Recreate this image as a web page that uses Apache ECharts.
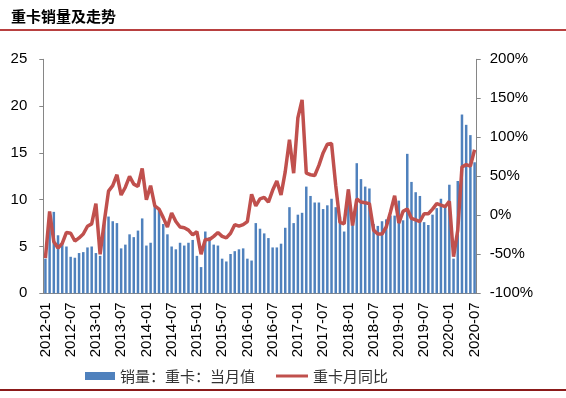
<!DOCTYPE html>
<html>
<head>
<meta charset="utf-8">
<script src="https://cdn.jsdelivr.net/npm/echarts@6/dist/echarts.min.js"></script>
<style>
html, body { margin: 0; padding: 0; background: #fff; }
#main { width: 566px; height: 398px; }
</style>
</head>
<body>
<div id="main"></div>
<script>
// 月份 2012-01 ~ 2020-07
var months = [];
for (var y = 2012; y <= 2020; y++) {
    for (var m = 1; m <= 12; m++) {
        if (y === 2020 && m > 7) break;
        months.push(y + '-' + (m < 10 ? '0' + m : m));
    }
}

// 销量：重卡：当月值（万辆）
var sales = [
    3.7, 8.7, 8.7, 6.2, 5.5, 5.0, 3.9, 3.8, 4.3, 4.4, 4.9, 5.0,   // 2012
    4.3, 4.0, 8.0, 8.2, 7.7, 7.5, 4.8, 5.2, 6.3, 6.0, 6.7, 8.0,   // 2013
    5.1, 5.4, 9.3, 8.9, 7.4, 6.3, 5.0, 4.7, 5.4, 5.1, 5.4, 5.7,   // 2014
    4.0, 2.8, 6.6, 6.0, 5.2, 5.1, 3.7, 3.4, 4.2, 4.5, 4.7, 4.8,   // 2015
    3.7, 3.5, 7.5, 6.9, 6.4, 5.9, 4.9, 4.9, 5.3, 7.0, 9.2, 7.5,   // 2016
    8.4, 8.6, 11.4, 10.4, 9.7, 9.7, 9.0, 9.4, 10.1, 9.2, 8.2, 6.6, // 2017
    11.1, 7.5, 13.9, 12.2, 11.4, 11.2, 7.4, 7.2, 7.7, 7.9, 8.3, 8.3, // 2018
    9.9, 7.8, 14.9, 11.9, 10.8, 10.4, 7.6, 7.3, 8.4, 9.1, 10.1, 9.3, // 2019
    11.6, 3.7, 12.0, 19.1, 18.0, 16.9, 14.0                          // 2020
];

// 重卡月同比（%）
var yoy = [
    -55, 5, -34, -42, -36, -22, -23, -33, -29, -24, -14, -11,
    15, -50, -8, 31, 38, 52, 26, 36, 50, 40, 37, 60,
    20, 38, 12, 8, -3, -15, 3, -8, -15, -16, -19, -25,
    -21, -50, -31, -31, -27, -22, -27, -29, -23, -12, -14, -12,
    -8, 27, 12, 21, 23, 17, 32, 44, 26, 56, 97, 54,
    125, 148, 54, 52, 51, 64, 80, 91, 92, 38, -9, -11,
    33, -13, 21, 17, 16, 15, -19, -24, -24, -15, 4, 25,
    -10, 5, 8, -4, -6, -8, 2, 2, 8, 15, 13, 11,
    18, -53, -19, 62, 65, 63, 84
];

var numFont = 'Liberation Sans, Arial, sans-serif';
var cnFont = 'Noto Sans CJK SC, sans-serif';

var myChart = echarts.init(document.getElementById('main'));
var option = {
    backgroundColor: '#fff',
    animation: false,
    title: {
        text: '重卡销量及走势',
        left: 11,
        top: 9,
        padding: 0,
        textStyle: { fontSize: 15, fontWeight: 'bold', fontFamily: cnFont, color: '#000' }
    },
    graphic: [
        { type: 'line', shape: { x1: 0, y1: 30, x2: 566, y2: 30 }, style: { stroke: '#A00000', lineWidth: 1.5 } },
        { type: 'line', shape: { x1: 0, y1: 390, x2: 566, y2: 390 }, style: { stroke: '#8B1A1A', lineWidth: 2 } }
    ],
    legend: [{
        data: [{ name: '销量：重卡：当月值', icon: 'rect' }],
        left: 85,
        top: 368,
        padding: 0,
        itemWidth: 30,
        itemHeight: 8,
        textStyle: { fontSize: 15, lineHeight: 16, fontFamily: cnFont, color: '#333' }
    }, {
        data: [{ name: '重卡月同比', icon: 'rect' }],
        left: 276,
        top: 368,
        padding: 0,
        itemWidth: 32,
        itemHeight: 3,
        textStyle: { fontSize: 15, lineHeight: 16, fontFamily: cnFont, color: '#333' }
    }],
    grid: {
        left: 43.3,
        right: 89.3,
        top: 59.3,
        bottom: 104.7,
        containLabel: false,
        outerBoundsMode: 'none'
    },
    xAxis: {
        type: 'category',
        data: months,
        boundaryGap: true,
        axisLine: { lineStyle: { color: '#868686', width: 1 } },
        axisTick: { interval: 5, length: 4, lineStyle: { color: '#868686' } },
        axisLabel: {
            interval: 5,
            rotate: 90,
            margin: 9,
            fontSize: 15,
            fontFamily: numFont,
            color: '#000'
        },
        splitLine: { show: false }
    },
    yAxis: [{
        type: 'value',
        min: 0,
        max: 25,
        interval: 5,
        position: 'left',
        axisLine: { show: true, lineStyle: { color: '#868686' } },
        axisTick: { show: true, length: 4, lineStyle: { color: '#868686' } },
        axisLabel: { margin: 16, fontSize: 15, fontFamily: numFont, color: '#000' },
        splitLine: { show: false }
    }, {
        type: 'value',
        min: -100,
        max: 200,
        interval: 50,
        position: 'right',
        axisLine: { show: true, lineStyle: { color: '#868686' } },
        axisTick: { show: true, length: 4, lineStyle: { color: '#868686' } },
        axisLabel: { margin: 13, fontSize: 15, fontFamily: numFont, color: '#000', formatter: '{value}%' },
        splitLine: { show: false }
    }],
    series: [{
        name: '销量：重卡：当月值',
        type: 'bar',
        yAxisIndex: 0,
        barWidth: 2.5,
        itemStyle: { color: '#4F81BD' },
        data: sales
    }, {
        name: '重卡月同比',
        type: 'line',
        yAxisIndex: 1,
        showSymbol: false,
        symbol: 'none',
        lineStyle: { color: '#C0504D', width: 3.5 },
        itemStyle: { color: '#C0504D' },
        data: yoy
    }]
};
myChart.setOption(option);
window.addEventListener('resize', function () {
    myChart.resize();
});
</script>
</body>
</html>
